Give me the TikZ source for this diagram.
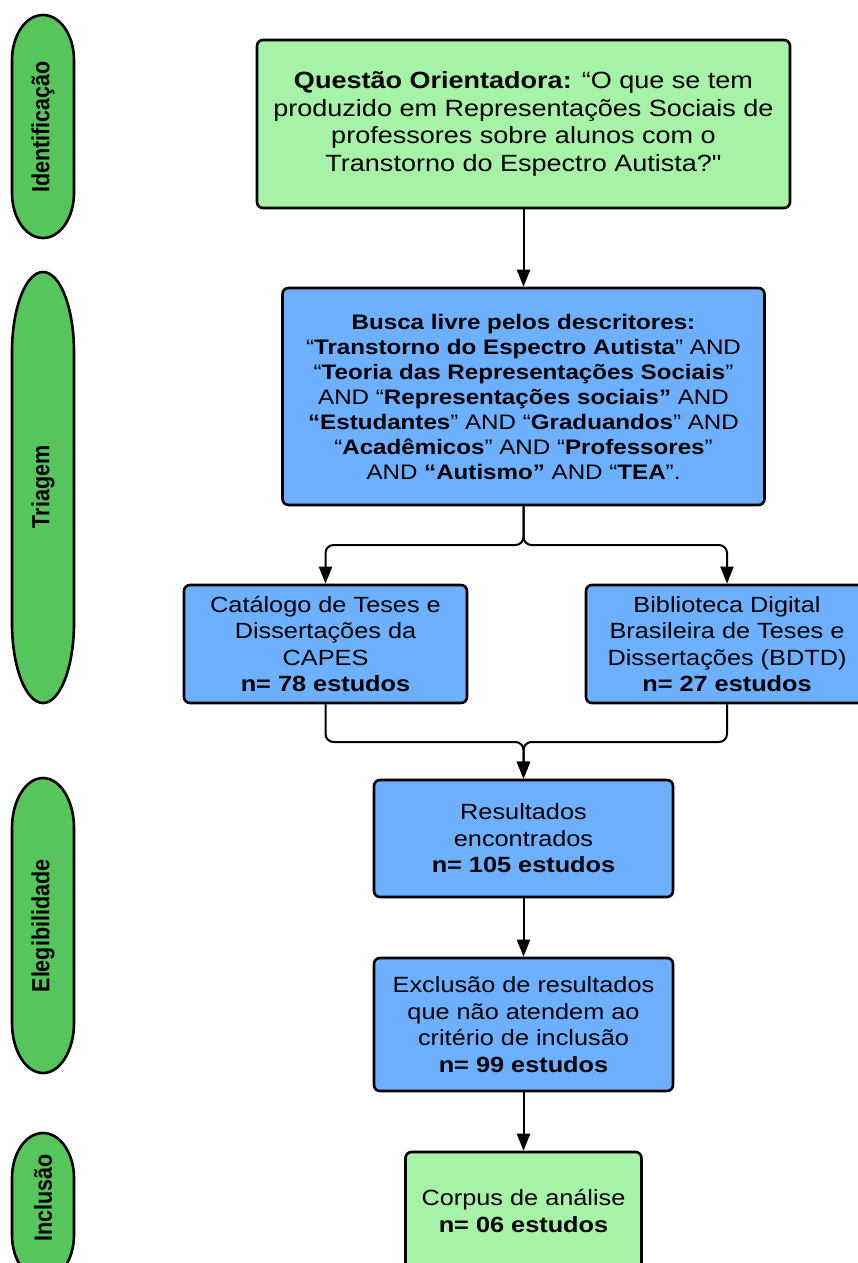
\documentclass[tikz,border=0pt]{standalone}
\usepackage{fontspec}
\setmainfont{Liberation Sans}[FakeStretch=1.15]
\newfontfamily\plainq{Liberation Sans}[FakeStretch=1.15]
\newfontfamily\pillfont{Liberation Sans}
\usetikzlibrary{arrows.meta}
\definecolor{lgreen}{RGB}{166,242,166}
\definecolor{lblue}{RGB}{108,176,255}
\definecolor{pgreen}{RGB}{86,197,92}
\newcommand\szOne{\fontsize{23.5}{27.7}\selectfont}
\newcommand\szTwo{\fontsize{21}{25}\selectfont}
\newcommand\szThree{\fontsize{22}{26.5}\selectfont}
\newcommand\pilllabel[1]{\scalebox{1}[1.15]{\pillfont\bfseries\fontsize{21.5}{21.5}\selectfont #1}}
\newcommand\mypill[4]{%
  \draw[pillshape] ({#1-31},{-(#2)-(#4)}) arc[start angle=180,end angle=0,x radius=31,y radius=#4]
    -- ({#1+31},{-(#3)+(#4)}) arc[start angle=0,end angle=-180,x radius=31,y radius=#4] -- cycle;}
\tikzset{
  box/.style={draw=black, line width=2.6pt, rounded corners=6pt, align=center, inner sep=0pt, text=black},
  gbox/.style={box, fill=lgreen},
  bbox/.style={box, fill=lblue},
  conn/.style={line width=2pt, draw=black, -{Triangle[length=17pt,width=13pt]}},
  pillshape/.style={draw=black, line width=2.6pt, fill=pgreen},
  pilltext/.style={rotate=90, inner sep=0pt, text=black},
}
\begin{document}
\begin{tikzpicture}[x=1pt,y=1pt]
\clip (0,0) rectangle (858,-1263);
\fill[white] (0,0) rectangle (858,-1263);

% phase pills
\mypill{43}{15}{238}{45}
\mypill{43}{272}{703}{80}
\mypill{43}{778}{1073}{50}
\mypill{43}{1133}{1280}{45}
\node[pilltext] (pid) at (43,-127) {\pilllabel{Identificação}};
\node[pilltext] (ptr) at (43,-487) {\pilllabel{Triagem}};
\node[pilltext] (pel) at (43,-926) {\pilllabel{Elegibilidade}};
\node[pilltext] (pin) at (43,-1198) {\pilllabel{Inclusão}};

% boxes
\node[gbox, font=\szOne, minimum width=533pt, minimum height=168pt] (q) at (523.5,-124)
  {\textbf{Questão Orientadora:} “O que se tem\\produzido em Representações Sociais de\\professores sobre alunos com o\\Transtorno do Espectro Autista?{\plainq"}};
\node[bbox, font=\szTwo, minimum width=482pt, minimum height=217pt] (b2) at (523.5,-396.5)
  {\textbf{Busca livre pelos descritores:}\\
   “\textbf{Transtorno do Espectro Autista}” AND\\
   “\textbf{Teoria das Representações Sociais}”\\
   AND “\textbf{Representações sociais”} AND\\
   \textbf{“Estudantes}” AND “\textbf{Graduandos}” AND\\
   “\textbf{Acadêmicos}” AND “\textbf{Professores}”\\
   AND \textbf{“Autismo”} AND “\textbf{TEA}”.};
\node[bbox, font=\szThree, minimum width=283pt, minimum height=118pt] (cat) at (325.5,-644)
  {Catálogo de Teses e\\Dissertações da\\CAPES\\\textbf{n= 78 estudos}};
\node[bbox, font=\szThree, minimum width=282pt, minimum height=118pt] (bdtd) at (727,-644)
  {Biblioteca Digital\\Brasileira de Teses e\\Dissertações (BDTD)\\\textbf{n= 27 estudos}};
\node[bbox, font=\szThree, minimum width=299pt, minimum height=117pt] (res) at (523.5,-838.5)
  {Resultados\\encontrados\\\textbf{n= 105 estudos}};
\node[bbox, font=\szThree, minimum width=299pt, minimum height=133pt] (exc) at (523.5,-1024.5)
  {Exclusão de resultados\\que não atendem ao\\critério de inclusão\\\textbf{n= 99 estudos}};
\node[gbox, font=\szThree, minimum width=236pt, minimum height=118pt] (cor) at (523.5,-1211)
  {Corpus de análise\\\textbf{n= 06 estudos}};

% connectors
\coordinate (split) at (523.5,-545);
\coordinate (merge) at (523.5,-742);
\draw[conn] (q.south) -- (b2.north);
\draw[conn, rounded corners=8pt] (b2.south) -- (split) -| (cat.north);
\draw[conn, rounded corners=8pt] (b2.south) -- (split) -| (bdtd.north);
\draw[conn, rounded corners=8pt] (cat.south) |- (merge) -- (res.north);
\draw[conn, rounded corners=8pt] (bdtd.south) |- (merge) -- (res.north);
\draw[conn] (res.south) -- (exc.north);
\draw[conn] (exc.south) -- (cor.north);
\end{tikzpicture}
\end{document}
